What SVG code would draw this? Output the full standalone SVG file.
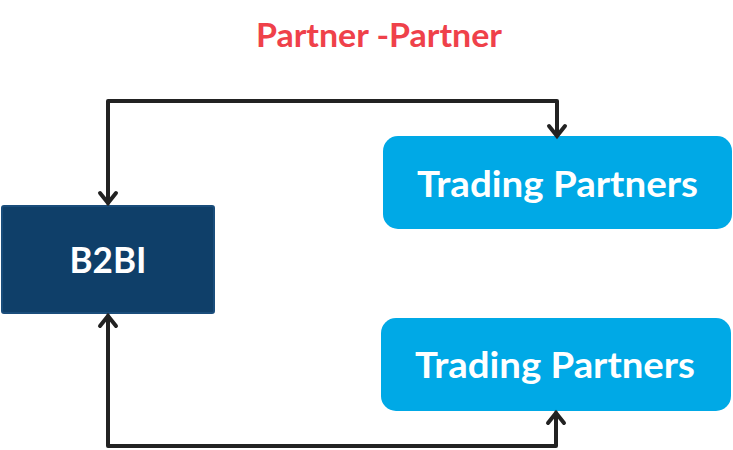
<svg xmlns="http://www.w3.org/2000/svg" width="733" height="450" viewBox="0 0 733 450">
<defs>
<style>
.conn{fill:none;stroke:#222;stroke-width:4;stroke-linejoin:round;stroke-linecap:round}
.head{fill:none;stroke:#222;stroke-width:4;stroke-linecap:round;stroke-linejoin:miter}
.lbl{font-family:"Lato","Open Sans","Liberation Sans",sans-serif;font-weight:bold;fill:#fff}
.tp{fill:#00a9e6}
</style>
</defs>
<rect width="733" height="450" fill="#fff"/>
<text x="379" y="47" text-anchor="middle" font-family="Lato,'Open Sans','Liberation Sans',sans-serif" font-weight="bold" font-size="33" fill="#ef414a" textLength="246" lengthAdjust="spacingAndGlyphs">Partner -Partner</text>
<g id="b2bi">
<rect x="2" y="206" width="212" height="107" rx="2" fill="#0f3f69" stroke="#1a4d7b" stroke-width="2"/>
<text class="lbl" x="108" y="273" text-anchor="middle" font-size="36" textLength="77" lengthAdjust="spacingAndGlyphs">B2BI</text>
</g>
<g id="tp1">
<rect class="tp" x="383" y="136" width="349" height="93" rx="15"/>
<text class="lbl" x="557.5" y="197" text-anchor="middle" font-size="36" textLength="281" lengthAdjust="spacingAndGlyphs">Trading Partners</text>
</g>
<g id="tp2">
<rect class="tp" x="381" y="318" width="350" height="93" rx="15"/>
<text class="lbl" x="555" y="378" text-anchor="middle" font-size="36" textLength="280" lengthAdjust="spacingAndGlyphs">Trading Partners</text>
</g>
<g id="connectors">
<path class="conn" d="M108 203 V101 H557 V135"/>
<path class="head" d="M100 193 L108 203 L116 193"/>
<path class="head" d="M549 126 L557 136 L565 126"/>
<path class="conn" d="M108 316 V446 H556 V413"/>
<path class="head" d="M100 326 L108 316 L116 326"/>
<path class="head" d="M548 423 L556 413 L564 423"/>
</g>
</svg>
